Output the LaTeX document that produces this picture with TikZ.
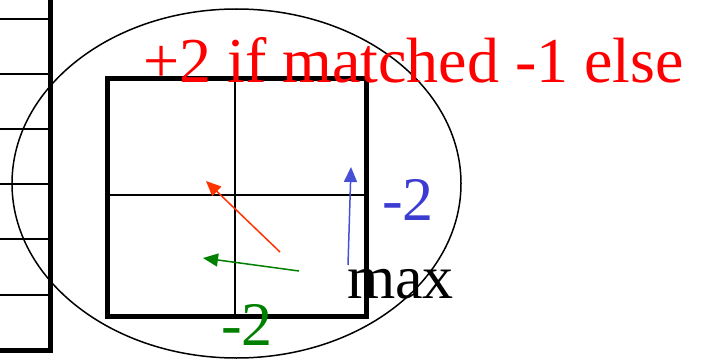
\documentclass[tikz,border=0pt]{standalone}
\usepackage{fontspec}
\setmainfont{Liberation Serif}
\usetikzlibrary{arrows.meta}
\definecolor{myred}{RGB}{255,0,0}
\definecolor{arrred}{RGB}{255,51,0}
\definecolor{myblue}{RGB}{60,60,210}
\definecolor{arrblue}{RGB}{70,80,215}
\definecolor{mygreen}{RGB}{0,128,0}
\tikzset{
  thinline/.style={line width=1.8pt, black},
  thickline/.style={line width=5pt, black},
  bigtext/.style={font=\fontsize{62}{70}\selectfont, inner sep=0pt, anchor=base west},
  vecarrow/.style={line width=1.5pt, -{Triangle[length=15pt, width=13pt]}}
}
\begin{document}
\begin{tikzpicture}[x=1pt,y=-1pt]
\useasboundingbox (0,0) rectangle (706,361);
% left table strip
\foreach \yy in {19,74,129,184,239,295} {
  \draw[thinline] (0,\yy) -- (50,\yy);
}
\draw[thickline] (0,350) -- (52.5,350);
\draw[thickline] (50.5,0) -- (50.5,352.5);
% ellipse
\coordinate (ellc) at (236.5,183.5);
\draw[line width=1.5pt] (ellc) ellipse [x radius=224.5, y radius=174.5];
% square grid
\coordinate (vt) at (235,78);
\coordinate (vb) at (235,316);
\coordinate (hl) at (107,195);
\coordinate (hr) at (366,195);
\draw[thinline] (vt) -- (vb);
\draw[thinline] (hl) -- (hr);
\draw[thickline] (107,78) rectangle (366,316);
% arrows
\coordinate (rs) at (280,252);
\coordinate (re) at (206,181);
\coordinate (gs) at (299,271);
\coordinate (ge) at (203,258);
\coordinate (bs) at (348,265);
\coordinate (be) at (351,167);
\draw[vecarrow, arrred] (rs) -- (re);
\draw[vecarrow, mygreen] (gs) -- (ge);
\draw[vecarrow, arrblue] (bs) -- (be);
% texts
\node[bigtext, text=myred, font=\fontsize{64}{72}\selectfont] (title) at (143,82) {+2 if matched -1 else};
\node[bigtext, text=myblue] (bl) at (382,220) {-2};
\node[bigtext, text=black] (mx) at (347,298) {max};
\node[bigtext, text=mygreen] (gr) at (221,345) {-2};
\end{tikzpicture}
\end{document}
